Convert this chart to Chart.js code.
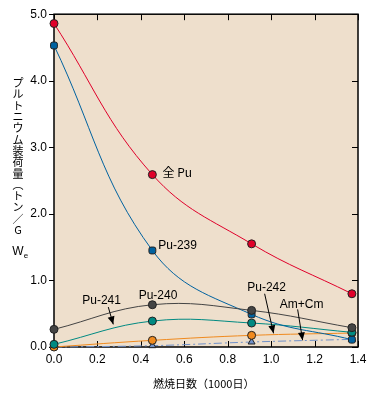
<!DOCTYPE html>
<html>
<head>
<meta charset="utf-8">
<script src="https://cdn.jsdelivr.net/npm/chart.js@4"></script>
<style>
  body { margin: 0; background: #fff; }
  #wrap { width: 373px; height: 401px; position: relative; }
</style>
</head>
<body>
<div id="wrap"><canvas id="burnupChart"></canvas></div>
<script>
const burnup = [0, 0.453, 0.91, 1.372];
const totalPu = [4.86, 2.59, 1.55, 0.80];
const pu239 = [4.53, 1.45, 0.49, 0.11];
const pu240 = [0.265, 0.635, 0.55, 0.29];
const pu241 = [0.04, 0.39, 0.36, 0.22];
const pu242 = [0.0, 0.10, 0.175, 0.21];
const amCm = [0.0, 0.02, 0.075, 0.115];

const xTicks = [0, 0.2, 0.4, 0.6, 0.8, 1.0, 1.2, 1.4];
const yTicks = [0, 1, 2, 3, 4, 5];

const yTitle = ["プ", "ル", "ト", "ニ", "ウ", "ム", "装", "荷", "量", "︵", "ト", "ン", "／", "G"];
const xTitle = "燃焼日数（1000日）";

// text on the plot: [text, x, y] in data units
const curveNames = [
  ["全 Pu", 0.50, 2.62],
  ["Pu-239", 0.48, 1.525],
  ["Pu-241", 0.13, 0.70],
  ["Pu-240", 0.39, 0.775],
  ["Pu-242", 0.89, 0.895],
  ["Am+Cm", 1.04, 0.64],
];
// arrows: [x1, y1, x2, y2] in data units
const arrows = [
  [0.25, 0.60, 0.273, 0.34],
  [0.97, 0.80, 1.011, 0.205],
  [1.122, 0.565, 1.145, 0.10],
];

const numFont = "Liberation Sans, Arial, sans-serif";
const jpFont = "'Noto Sans CJK JP', sans-serif";

function pts(ys) {
  return burnup.map((x, i) => ({ x: x, y: ys[i] }));
}

function series(label, ys, color, style) {
  return {
    label: label,
    data: pts(ys),
    borderColor: color,
    backgroundColor: color,
    borderWidth: 1,
    tension: 0.4,
    pointStyle: style,
    pointRadius: 4,
    pointBorderColor: "#222",
    pointBorderWidth: 1,
    clip: false,
  };
}

const plotDecor = {
  id: "plotDecor",
  beforeDraw(chart) {
    const { ctx, chartArea: a } = chart;
    ctx.save();
    ctx.fillStyle = "#EEDFCC";
    ctx.fillRect(a.left, a.top, a.right - a.left, a.bottom - a.top);
    ctx.restore();
  },
  beforeDatasetsDraw(chart) {
    const { ctx, chartArea: a, scales } = chart;
    ctx.save();
    ctx.strokeStyle = "#000";
    ctx.lineWidth = 1.5;
    ctx.strokeRect(a.left, a.top, a.right - a.left, a.bottom - a.top);
    ctx.lineWidth = 1;
    ctx.beginPath();
    xTicks.forEach((v) => {
      const px = Math.round(scales.x.getPixelForValue(v)) + 0.5;
      ctx.moveTo(px, a.top);
      ctx.lineTo(px, a.top + 6);
      ctx.moveTo(px, a.bottom);
      ctx.lineTo(px, a.bottom - 6);
    });
    yTicks.forEach((v) => {
      const py = Math.round(scales.y.getPixelForValue(v)) + 0.5;
      ctx.moveTo(a.left - 5, py);
      ctx.lineTo(a.left, py);
      ctx.moveTo(a.right, py);
      ctx.lineTo(a.right - 6, py);
    });
    ctx.stroke();
    ctx.restore();
  },
  afterDatasetsDraw(chart) {
    const { ctx, scales } = chart;
    const x = scales.x, y = scales.y;
    ctx.save();
    ctx.fillStyle = "#000";
    ctx.textBaseline = "middle";
    ctx.textAlign = "left";
    curveNames.forEach(([t, vx, vy]) => {
      ctx.font = t.startsWith("全") ? "12px " + jpFont : "12px " + numFont;
      ctx.fillText(t, x.getPixelForValue(vx), y.getPixelForValue(vy));
    });

    ctx.strokeStyle = "#000";
    ctx.lineWidth = 1;
    arrows.forEach(([x1, y1, x2, y2]) => {
      const ax = x.getPixelForValue(x1), ay = y.getPixelForValue(y1);
      const bx = x.getPixelForValue(x2), by = y.getPixelForValue(y2);
      const ang = Math.atan2(by - ay, bx - ax);
      ctx.beginPath();
      ctx.moveTo(ax, ay);
      ctx.lineTo(bx, by);
      ctx.stroke();
      ctx.beginPath();
      ctx.moveTo(bx, by);
      ctx.lineTo(bx - 8 * Math.cos(ang) + 3.5 * Math.sin(ang), by - 8 * Math.sin(ang) - 3.5 * Math.cos(ang));
      ctx.lineTo(bx - 8 * Math.cos(ang) - 3.5 * Math.sin(ang), by - 8 * Math.sin(ang) + 3.5 * Math.cos(ang));
      ctx.closePath();
      ctx.fill();
    });

    // axis titles
    ctx.textAlign = "center";
    ctx.font = "11px " + jpFont;
    yTitle.forEach((c, i) => {
      ctx.fillText(c, 18, 83 + i * 11.3);
    });
    ctx.font = "12px " + numFont;
    ctx.fillText("W", 18, 252);
    ctx.font = "8px " + numFont;
    ctx.fillText("e", 26, 256);

    ctx.font = "11px " + jpFont;
    ctx.textAlign = "left";
    ctx.fillText(xTitle, 153, 384);
    ctx.restore();
  },
};

new Chart(document.getElementById("burnupChart"), {
  type: "line",
  data: {
    datasets: [
      series("全 Pu", totalPu, "#E0002A", "circle"),
      series("Pu-240", pu240, "#444444", "circle"),
      series("Pu-239", pu239, "#0062A0", "rectRounded"),
      series("Pu-241", pu241, "#008A82", "circle"),
      series("Pu-242", pu242, "#F08A1E", "circle"),
      Object.assign(series("Am+Cm", amCm, "#7090C8", "triangle"), { borderDash: [8, 3, 2, 3] }),
    ],
  },
  options: {
    responsive: true,
    maintainAspectRatio: false,
    animation: false,
    layout: { padding: { top: 13, right: 15, left: 0, bottom: 0 } },
    plugins: { legend: { display: false }, tooltip: { enabled: false } },
    scales: {
      x: {
        type: "linear",
        min: 0,
        max: 1.4,
        afterBuildTicks: (s) => { s.ticks = xTicks.map((v) => ({ value: v })); },
        afterFit: (s) => { s.height = 54; },
        grid: { display: false, drawTicks: false },
        border: { display: false },
        ticks: {
          autoSkip: false,
          maxRotation: 0,
          padding: 5,
          color: "#000",
          font: { family: numFont, size: 12 },
          callback: (v) => Number(v).toFixed(1),
        },
      },
      y: {
        min: 0,
        max: 5,
        afterBuildTicks: (s) => { s.ticks = yTicks.map((v) => ({ value: v })); },
        afterFit: (s) => { s.width = 54; },
        grid: { display: false, drawTicks: false },
        border: { display: false },
        ticks: {
          padding: 7,
          color: "#000",
          font: { family: numFont, size: 12 },
          callback: (v) => Number(v).toFixed(1),
        },
      },
    },
  },
  plugins: [plotDecor],
});
</script>
</body>
</html>
